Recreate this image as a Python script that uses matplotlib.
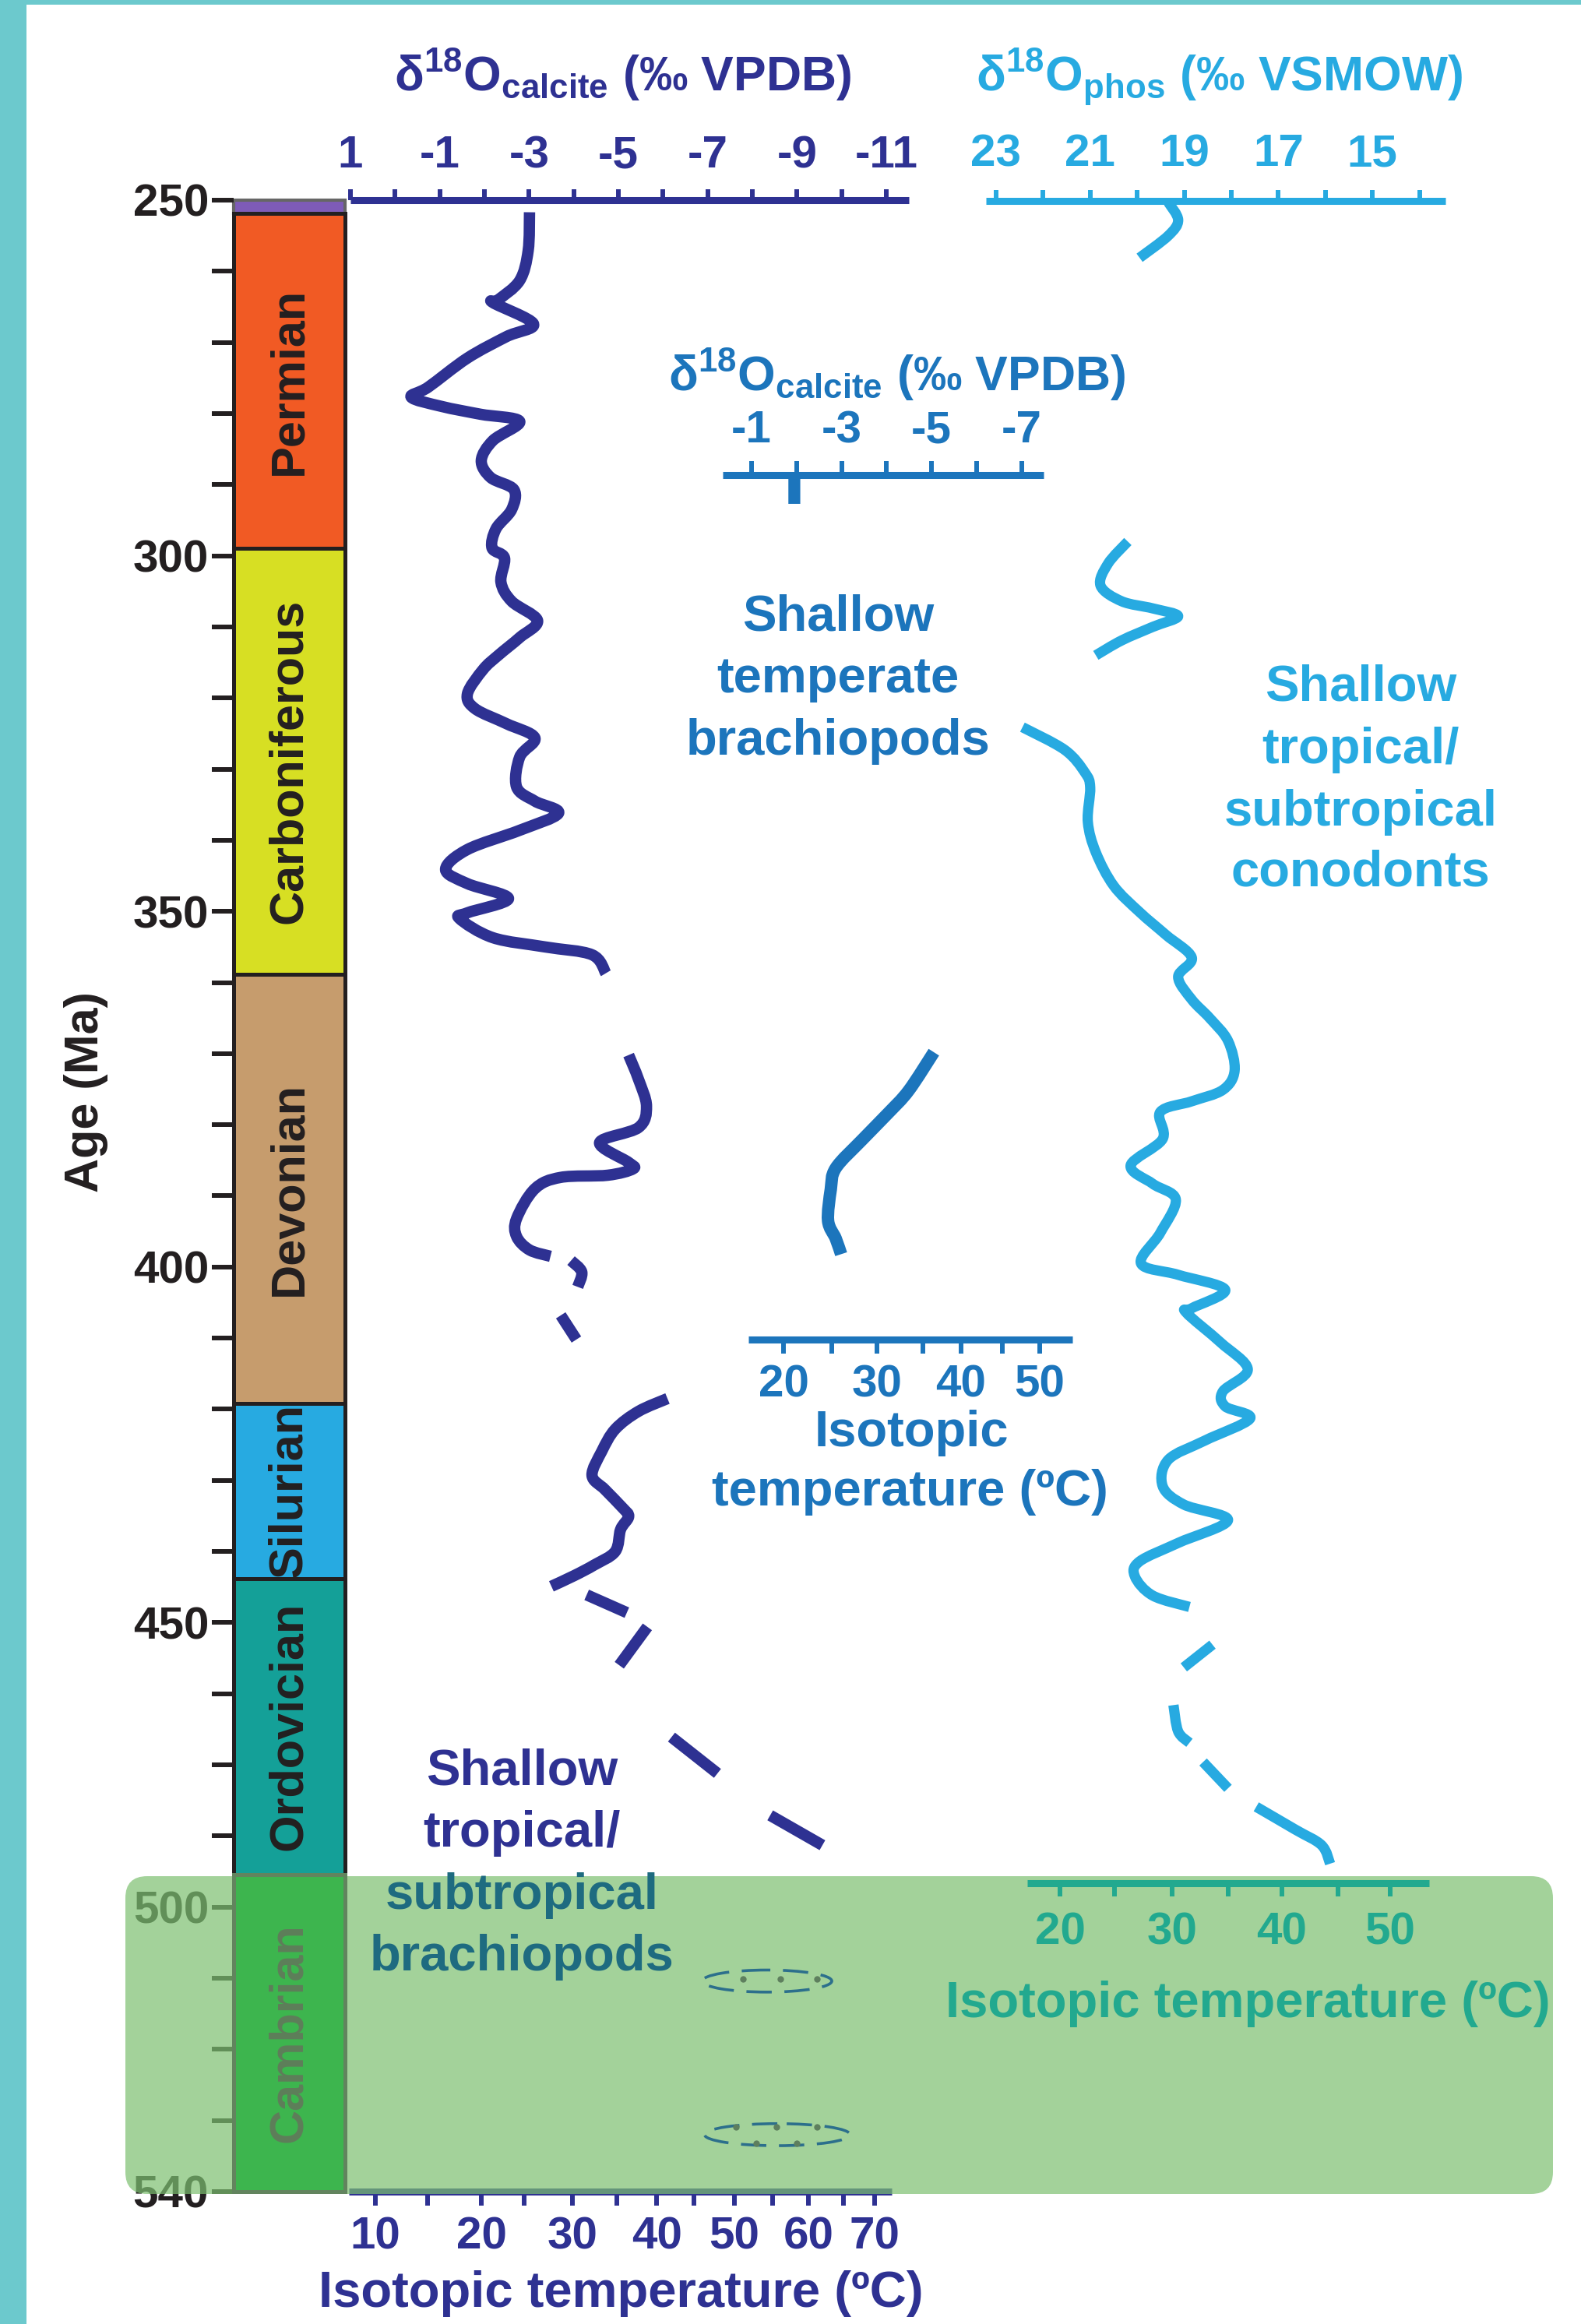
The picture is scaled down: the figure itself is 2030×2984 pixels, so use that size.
import numpy as np
import matplotlib
matplotlib.use('Agg')
import matplotlib.pyplot as plt
from matplotlib.patches import Rectangle, FancyBboxPatch, Ellipse, PathPatch
from matplotlib.path import Path

plt.rcParams['font.family'] = ['Liberation Sans', 'DejaVu Sans']
plt.rcParams['font.weight'] = 'bold'
plt.rcParams['mathtext.default'] = 'regular'

# ---------------- data ----------------
periods = ['Permian', 'Carboniferous', 'Devonian', 'Silurian', 'Ordovician', 'Cambrian']
period_top = [251.9, 298.9, 358.9, 419.2, 443.8, 485.4]
period_base = [298.9, 358.9, 419.2, 443.8, 485.4, 530.0]
period_colors = ['#F15A24', '#D7DF23', '#C69C6D', '#27AAE1', '#14A098', '#3DB54E']

age_minor = list(range(250, 531, 10))
age_major = [250, 300, 350, 400, 450, 490, 530]
age_labels = ['250', '300', '350', '400', '450', '500', '540']

# shallow tropical/subtropical brachiopods, d18O calcite (permil VPDB)
brach_age_1 = [251.7, 257.1, 261.3, 264.0, 264.4, 267.4, 269.2, 272.2, 276.3, 277.7,
               279.0, 280.1, 281.1, 283.8, 286.6, 289.0, 290.7, 293.5, 296.2, 298.9,
               300.3, 303.7, 306.4, 309.1, 311.5, 314.0, 316.0, 319.4, 321.5, 323.6,
               325.6, 328.3, 332.5, 334.5, 336.2, 338.6, 341.3, 344.1, 346.1, 348.2,
               350.2, 351.0, 353.7, 355.0, 356.1, 358.7]
brach_d18o_1 = [-3.01, -2.98, -2.79, -2.31, -2.19, -3.10, -2.49, -1.62, -0.74, -0.36,
                -1.04, -1.91, -2.79, -2.19, -1.93, -2.14, -2.66, -2.61, -2.26, -2.17,
                -2.45, -2.37, -2.61, -3.19, -2.79, -2.31, -1.97, -1.62, -1.79, -2.49,
                -3.13, -2.79, -2.72, -3.13, -3.66, -2.79, -1.62, -1.13, -1.62, -2.54,
                -1.62, -1.44, -2.19, -3.36, -4.41, -4.72]
brach_age_2 = [370.2, 373.6, 377.4, 380.4, 382.5, 385.3, 386.2, 387.1, 387.4, 389.0,
               393.2, 395.7, 397.6, 398.5]
brach_d18o_2 = [-5.23, -5.45, -5.63, -5.45, -4.58, -5.23, -5.33, -4.76, -3.71, -3.13,
                -2.72, -2.72, -3.01, -3.48]
brach_age_3 = [418.5, 420.3, 422.8, 425.9, 429.3, 431.3, 433.9, 435.1, 436.9, 440.0,
               441.9, 443.4, 444.9]
brach_d18o_3 = [-6.10, -5.45, -4.93, -4.63, -4.41, -4.70, -5.10, -5.23, -5.05, -4.93,
                -4.46, -4.01, -3.50]
brach_dash_age = [[399.1, 400.7, 402.8], [406.8, 410.2], [446.1, 448.6],
                  [450.6, 456.0], [466.1, 471.2], [477.1, 481.3]]
brach_dash_d18o = [[-3.94, -4.18, -4.09], [-3.71, -4.06], [-4.29, -5.19],
                   [-5.65, -5.02], [-6.19, -7.22], [-8.40, -9.57]]

# Cambrian clusters
cluster_d18o = [-8.33, -8.56]
cluster_age = [500.4, 522.0]
cluster_width = [2.9, 3.26]
cluster_height = [3.1, 3.1]
cluster_pt_d18o = [-7.79, -8.63, -9.45, -7.63, -8.54, -9.45, -8.09, -8.99]
cluster_pt_age = [500.1, 500.1, 500.1, 520.9, 520.9, 520.9, 523.2, 523.2]

# shallow temperate brachiopods
temperate_age = [369.8, 375.2, 378.4, 382.1, 386.1, 389.1, 393.5, 396.0, 398.2]
temperate_d18o = [-5.05, -4.49, -4.03, -3.46, -2.87, -2.76, -2.70, -2.87, -2.99]
temperate_mark_age = [288.7, 292.7]
temperate_mark_d18o = [-1.95, -1.95]

# shallow tropical/subtropical conodonts, d18O phosphate (permil VSMOW)
cono_age_1 = [250.3, 252.8, 255.0, 258.1]
cono_d18o_1 = [19.34, 19.13, 19.34, 19.95]
cono_age_2 = [298.0, 301.1, 304.2, 306.4, 307.4, 308.5, 310.0, 311.9, 314.0]
cono_d18o_2 = [20.20, 20.62, 20.78, 20.33, 19.67, 19.13, 19.67, 20.33, 20.88]
cono_age_3 = [324.1, 327.3, 330.5, 332.6, 337.4, 341.7, 346.4, 350.1, 353.3, 356.5,
              359.2, 362.4, 365.0, 368.2, 372.4, 375.1, 376.7, 378.2, 382.0, 385.7,
              388.3, 390.5, 395.2, 399.5, 401.1, 403.2, 405.8, 406.4, 410.6, 414.4,
              417.5, 419.6, 421.3, 424.4, 427.1, 430.8, 433.4, 435.6, 438.8, 441.4,
              443.5, 446.2, 447.8]
cono_d18o_3 = [22.44, 21.54, 21.11, 21.00, 21.05, 20.88, 20.50, 19.95, 19.39, 18.84,
               19.13, 18.84, 18.46, 18.07, 17.93, 18.18, 18.84, 19.51, 19.46, 20.14,
               19.67, 19.18, 19.51, 19.92, 19.13, 18.13, 18.84, 18.96, 18.23, 17.65,
               18.18, 18.13, 17.60, 18.56, 19.34, 19.46, 19.01, 18.07, 19.13, 19.95,
               20.05, 19.67, 18.89]
cono_dash_age = [[453.1, 456.3], [461.6, 465.3, 466.9], [469.6, 473.3]]
cono_dash_d18o = [[18.40, 19.01], [19.23, 19.13, 18.89], [18.60, 18.07]]
cono_age_4 = [475.9, 479.1, 481.3, 483.9]
cono_d18o_4 = [17.47, 16.64, 16.08, 15.90]

# axis ticks
calc_major = [1, -1, -3, -5, -7, -9, -11]
calc_minor = [0, -2, -4, -6, -8, -10]
calc_temp_major = [0.44, -1.93, -3.97, -5.86, -7.60, -9.26, -10.74]
calc_temp_minor = [-0.73, -2.89, -4.97, -6.69, -8.45, -10.04]
calc_temp_labels = ['10', '20', '30', '40', '50', '60', '70']
mid_major = [-1, -3, -5, -7]
mid_minor = [-2, -4, -6]
mid_temp_major = [-1.71, -3.78, -5.65, -7.40]
mid_temp_minor = [-2.78, -4.81, -6.57]
temp_labels_4 = ['20', '30', '40', '50']
phos_major = [23, 21, 19, 17, 15]
phos_minor = [22, 20, 18, 16, 14]
phos_temp_major = [21.64, 19.26, 16.93, 14.63]
phos_temp_minor = [20.48, 18.07, 15.74]

# ---------------- layout ----------------
NAVY = '#2E3192'
BLUE = '#1C75BC'
CYAN = '#27AAE1'
GREEN_AX = '#22A98F'
TEAL_TXT = '#1E6B80'
BLACK = '#231F20'

W, H = 2030, 2984
fig = plt.figure(figsize=(W / 100, H / 100), dpi=100)


def box(x0, y0, x1, y1):
    return [x0 / W, 1 - y1 / H, (x1 - x0) / W, (y1 - y0) / H]


def age_y(a):
    return 257 + (a - 250) * 9.132


def y_age(y):
    return 250 + (y - 257) / 9.132


def left_x(d):
    return 450 + (1 - d) * 57.33


def mid_x(d):
    return 965 + (-1 - d) * 57.8


def right_x(d):
    return 1279 + (23 - d) * 60.4


def bare(a):
    a.patch.set_visible(False)
    for s in a.spines.values():
        s.set_visible(False)
    a.set_yticks([])
    a.set_xticks([])


def style_x(a, side, color, bounds, major, labels, minor, ticklen, pad):
    sp = a.spines[side]
    sp.set_visible(True)
    sp.set_color(color)
    sp.set_linewidth(6.5)
    sp.set_bounds(*bounds)
    sp.set_capstyle('butt')
    if side == 'top':
        a.xaxis.tick_top()
    else:
        a.xaxis.tick_bottom()
    a.set_xticks(major, labels)
    a.set_xticks(minor, minor=True)
    a.tick_params(axis='x', which='both', direction='out', length=ticklen, width=4.3,
                  color=color, labelcolor=color, labelsize=42, pad=pad)


def curve(a, xs, ys, color, lw):
    # smooth stroke through the read points (Catmull-Rom drawn as Bezier path)
    pts = np.column_stack([xs, ys]).astype(float)
    n = len(pts)
    verts = [pts[0]]
    codes = [Path.MOVETO]
    for i in range(n - 1):
        p0 = pts[max(i - 1, 0)]
        p1 = pts[i]
        p2 = pts[i + 1]
        p3 = pts[min(i + 2, n - 1)]
        verts += [p1 + (p2 - p0) / 6, p2 - (p3 - p1) / 6, p2]
        codes += [Path.CURVE4] * 3
    a.add_patch(PathPatch(Path(verts, codes), fill=False, ec=color, lw=lw,
                          capstyle='butt', joinstyle='round', clip_on=False))


# background with teal frame
ax_bg = fig.add_axes([0, 0, 1, 1], zorder=0)
ax_bg.set_xlim(0, W)
ax_bg.set_ylim(H, 0)
ax_bg.axis('off')
ax_bg.add_patch(Rectangle((0, 0), 34, H, color='#6CC9CD', lw=0))
ax_bg.add_patch(Rectangle((0, 0), W, 6, color='#6CC9CD', lw=0))

# geologic column
col_rect = box(300, age_y(250), 443, age_y(530))
ax_col = fig.add_axes(col_rect, zorder=1)
bare(ax_col)
ax_col.set_xlim(0, 1)
ax_col.set_ylim(530, 250)
ax_col.add_patch(Rectangle((0, 250), 1, 1.9, fc='#7E5BB8', ec='#666666', lw=3, clip_on=False))
for name, t, b, c in zip(periods, period_top, period_base, period_colors):
    ax_col.add_patch(Rectangle((0, t), 1, b - t, fc=c, ec=BLACK, lw=3.6, clip_on=False))
    if name != 'Cambrian':
        ax_col.text(0.5, (t + b) / 2, name, rotation=90, ha='center', va='center',
                    fontsize=44, color=BLACK)
ax_col.set_yticks(age_major, age_labels)
ax_col.set_yticks(age_minor, minor=True)
ax_col.tick_params(axis='y', which='both', direction='out', length=20, width=4.3,
                   color=BLACK, labelcolor=BLACK, labelsize=42, pad=3)

# left: tropical brachiopods
l_rect = box(left_x(1.05), age_y(250), left_x(-11.55), age_y(530))
ax_l = fig.add_axes(l_rect, zorder=2)
bare(ax_l)
ax_l.set_xlim(1.05, -11.55)
ax_l.set_ylim(530, 250)
style_x(ax_l, 'top', NAVY, (1.0, -11.5), calc_major, [str(v) for v in calc_major],
        calc_minor, 10, 11.4)
for ages, vals in [(brach_age_1, brach_d18o_1), (brach_age_2, brach_d18o_2),
                   (brach_age_3, brach_d18o_3)]:
    curve(ax_l, vals, ages, NAVY, 10.5)
for ages, vals in zip(brach_dash_age, brach_dash_d18o):
    curve(ax_l, vals, ages, NAVY, 10.5)

ax_lb = fig.add_axes(l_rect, zorder=2)
bare(ax_lb)
ax_lb.set_xlim(1.05, -11.55)
ax_lb.set_ylim(530, 250)
style_x(ax_lb, 'bottom', NAVY, (1.03, -11.12), calc_temp_major, calc_temp_labels,
        calc_temp_minor, 13, 10)

# middle: temperate brachiopods
m_rect = box(mid_x(-0.308), 610, mid_x(-8.18), 1720)
ax_m = fig.add_axes(m_rect, zorder=2)
bare(ax_m)
ax_m.set_xlim(-0.308, -8.18)
ax_m.set_ylim(y_age(1720), y_age(610))
style_x(ax_m, 'top', BLUE, (-0.36, -7.49), mid_major, [str(v) for v in mid_major],
        mid_minor, 13, 8.4)
curve(ax_m, temperate_d18o, temperate_age, BLUE, 11.5)
curve(ax_m, temperate_mark_d18o, temperate_mark_age, BLUE, 11)

ax_mb = fig.add_axes(m_rect, zorder=2)
bare(ax_mb)
ax_mb.set_xlim(-0.308, -8.18)
ax_mb.set_ylim(y_age(1720), y_age(610))
style_x(ax_mb, 'bottom', BLUE, (-0.93, -8.13), mid_temp_major, temp_labels_4,
        mid_temp_minor, 13, 9.4)

# right: conodonts
r_rect = box(right_x(23.31), 258, right_x(13.38), 2418)
ax_r = fig.add_axes(r_rect, zorder=2)
bare(ax_r)
ax_r.set_xlim(23.31, 13.38)
ax_r.set_ylim(y_age(2418), y_age(258))
style_x(ax_r, 'top', CYAN, (23.22, 13.45), phos_major, [str(v) for v in phos_major],
        phos_minor, 10, 13.5)
for ages, vals in [(cono_age_1, cono_d18o_1), (cono_age_2, cono_d18o_2),
                   (cono_age_3, cono_d18o_3), (cono_age_4, cono_d18o_4)]:
    curve(ax_r, vals, ages, CYAN, 9.5)
for ages, vals in zip(cono_dash_age, cono_dash_d18o):
    curve(ax_r, vals, ages, CYAN, 9.5)

# green Cambrian band (semi-transparent, on top)
ax_ov = fig.add_axes([0, 0, 1, 1], zorder=5)
ax_ov.set_xlim(0, W)
ax_ov.set_ylim(H, 0)
ax_ov.axis('off')
ax_ov.add_patch(FancyBboxPatch((161, 2409), 1994 - 161, 2817 - 2409,
                               boxstyle='round,pad=0,rounding_size=28',
                               fc='#7CC070', ec='none', alpha=0.7))

# Cambrian cell above the band
ax_cam = fig.add_axes(col_rect, zorder=6)
bare(ax_cam)
ax_cam.set_xlim(0, 1)
ax_cam.set_ylim(530, 250)
ax_cam.add_patch(Rectangle((0, period_top[5]), 1, period_base[5] - period_top[5],
                           fc=period_colors[5], ec='#62845E', lw=3.6, clip_on=False))
ax_cam.text(0.5, (period_top[5] + period_base[5]) / 2, periods[5], rotation=90,
            ha='center', va='center', fontsize=44, color='#5E7E5A')

# Cambrian clusters above the band
ax_le = fig.add_axes(l_rect, zorder=6)
bare(ax_le)
ax_le.set_xlim(1.05, -11.55)
ax_le.set_ylim(530, 250)
for cx, cy, w, h in zip(cluster_d18o, cluster_age, cluster_width, cluster_height):
    ax_le.add_patch(Ellipse((cx, cy), w, h, fill=False, ec='#2C6F8C', lw=2.6,
                            ls=(0, (9, 4.5))))
ax_le.plot(cluster_pt_d18o, cluster_pt_age, 'o', ms=6, color='#5E7F5E', mec='none')

# green temperature axis for conodonts
ax_rb = fig.add_axes(r_rect, zorder=6)
bare(ax_rb)
ax_rb.set_xlim(23.31, 13.38)
ax_rb.set_ylim(y_age(2418), y_age(258))
style_x(ax_rb, 'bottom', GREEN_AX, (22.34, 13.79), phos_temp_major, temp_labels_4,
        phos_temp_minor, 12, 14.5)


# free text
def put(x, y, s, color, size=47, **kw):
    ax_ov.text(x, y, s, color=color, fontsize=size, ha='center', va='baseline', **kw)


put(800, 117, r'δ$^{18}$O$_{calcite}$ (‰ VPDB)', NAVY, 45)
put(1565, 117, r'δ$^{18}$O$_{phos}$ (‰ VSMOW)', CYAN, 45)
put(1152, 502, r'δ$^{18}$O$_{calcite}$ (‰ VPDB)', BLUE, 45)

for s, y in zip(['Shallow', 'temperate', 'brachiopods'], [809, 889, 969]):
    put(1076, y, s, BLUE)
for s, y in zip(['Shallow', 'tropical/', 'subtropical', 'conodonts'], [900, 980, 1060, 1138]):
    put(1747, y, s, CYAN)
for s, y, c in zip(['Shallow', 'tropical/', 'subtropical', 'brachiopods'],
                   [2291, 2371, 2451, 2530], [NAVY, NAVY, TEAL_TXT, TEAL_TXT]):
    put(670, y, s, c)

put(1170, 1857, 'Isotopic', BLUE)
put(1168, 1933, 'temperature (ºC)', BLUE)
put(1602, 2590, 'Isotopic temperature (ºC)', GREEN_AX)
put(797, 2962, 'Isotopic temperature (ºC)', NAVY)
ax_ov.text(111, 1402, 'Age (Ma)', rotation=90, ha='center', va='center',
           fontsize=44, color=BLACK)

fig.savefig('out.png', dpi=100)
